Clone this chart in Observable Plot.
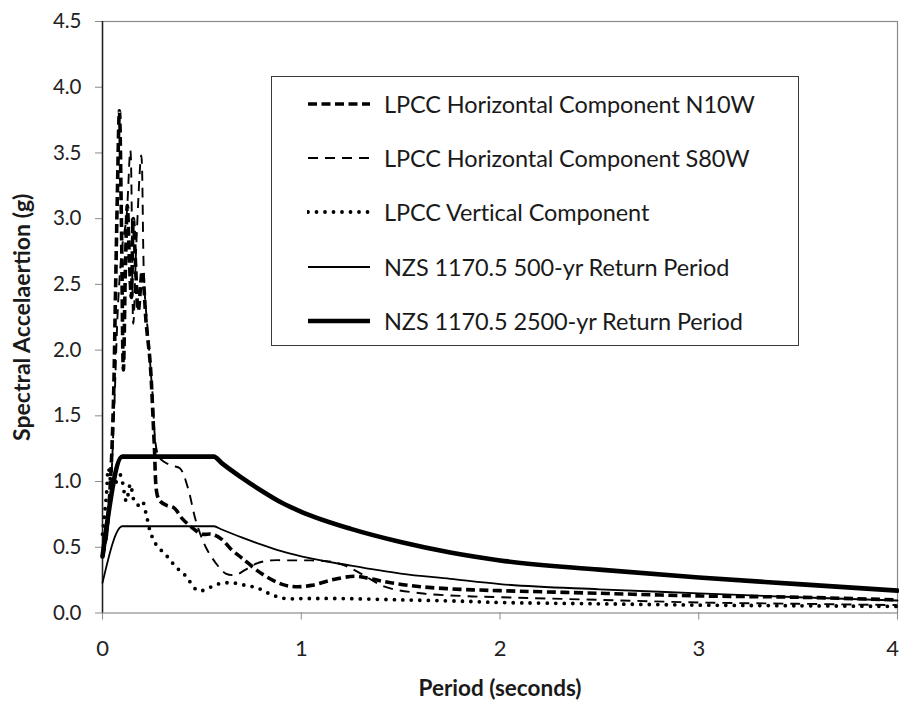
<!DOCTYPE html>
<html>
<head>
<meta charset="utf-8">
<script src="https://cdn.jsdelivr.net/npm/d3@7"></script>
<script src="https://cdn.jsdelivr.net/npm/@observablehq/plot@0.6"></script>
<style>
  html, body { margin: 0; padding: 0; background: #fff; }
  #wrap { position: relative; width: 899px; height: 702px; font-family: Lato, "Open Sans", sans-serif; }
  #legend { position: absolute; left: 271px; top: 76px; width: 528px; height: 270px; border: 1.5px solid #3a3a3a; background: #fff; box-sizing: border-box; }
  .row { position: absolute; left: 0; height: 30px; display: flex; align-items: center; }
  .row svg { margin-left: 35px; }
  .row span { margin-left: 13px; font-size: 23.5px; color: #1a1a1a; white-space: nowrap; letter-spacing: -0.1px; }
</style>
</head>
<body>
<div id="wrap"></div>
<script>
// ---- data ----
const xTicks = [0, 1, 2, 3, 4];
const yTicks = [0, 0.5, 1, 1.5, 2, 2.5, 3, 3.5, 4, 4.5];

const seriesNames = [
  "LPCC Horizontal Component N10W",
  "LPCC Horizontal Component S80W",
  "LPCC Vertical Component",
  "NZS 1170.5 500-yr Return Period",
  "NZS 1170.5 2500-yr Return Period"
];

const periodN10W = [0, 0.02, 0.04, 0.055, 0.065, 0.075, 0.085, 0.095, 0.105, 0.115, 0.125, 0.135, 0.145, 0.155, 0.165, 0.18, 0.2, 0.22, 0.24, 0.26, 0.275, 0.29, 0.32, 0.36, 0.4, 0.45, 0.5, 0.55, 0.6, 0.65, 0.7, 0.8, 0.9, 0.97, 1.05, 1.15, 1.27, 1.35, 1.45, 1.6, 1.8, 2.0, 2.5, 3.0, 3.5, 4.0];
const saN10W     = [0.43, 0.6, 1.0, 1.6, 2.4, 3.2, 3.82, 3.0, 1.85, 2.6, 3.1, 2.7, 2.4, 3.0, 2.7, 2.3, 2.6, 2.2, 1.9, 1.3, 0.9, 0.85, 0.82, 0.8, 0.72, 0.65, 0.6, 0.6, 0.56, 0.48, 0.42, 0.3, 0.22, 0.2, 0.21, 0.25, 0.28, 0.26, 0.23, 0.2, 0.18, 0.17, 0.15, 0.13, 0.12, 0.1];

const periodS80W = [0, 0.02, 0.04, 0.06, 0.08, 0.1, 0.12, 0.14, 0.155, 0.17, 0.195, 0.21, 0.23, 0.25, 0.28, 0.31, 0.35, 0.39, 0.43, 0.47, 0.52, 0.57, 0.62, 0.67, 0.72, 0.78, 0.85, 0.95, 1.05, 1.15, 1.22, 1.3, 1.42, 1.6, 1.8, 2.0, 2.5, 3.0, 3.5, 4.0];
const saS80W     = [0.43, 0.55, 0.9, 1.6, 2.4, 2.8, 3.0, 3.52, 2.2, 2.8, 3.48, 2.5, 2.1, 1.7, 1.2, 1.15, 1.12, 1.1, 0.95, 0.7, 0.5, 0.38, 0.3, 0.29, 0.33, 0.38, 0.4, 0.4, 0.4, 0.39, 0.36, 0.3, 0.2, 0.15, 0.13, 0.12, 0.1, 0.08, 0.07, 0.06];

const periodVert = [0, 0.02, 0.03, 0.05, 0.07, 0.09, 0.1, 0.12, 0.14, 0.16, 0.18, 0.2, 0.22, 0.24, 0.27, 0.32, 0.37, 0.42, 0.47, 0.5, 0.58, 0.65, 0.72, 0.78, 0.85, 0.92, 1.0, 1.2, 1.5, 1.8, 2.0, 2.5, 3.0, 3.5, 4.0];
const saVert     = [0.6, 0.9, 1.1, 0.95, 1.0, 1.05, 1.0, 0.85, 0.98, 0.85, 0.82, 0.85, 0.75, 0.62, 0.52, 0.44, 0.35, 0.28, 0.18, 0.17, 0.22, 0.23, 0.21, 0.19, 0.14, 0.11, 0.11, 0.11, 0.1, 0.09, 0.08, 0.07, 0.06, 0.055, 0.05];

const periodNZS = [0, 0.1, 0.56, 0.6, 0.7, 0.8, 0.9, 1.0, 1.25, 1.5, 1.75, 2.0, 2.5, 3.0, 3.5, 4.0];
const sa500     = [0.23, 0.66, 0.66, 0.635, 0.575, 0.52, 0.47, 0.43, 0.36, 0.3, 0.26, 0.22, 0.18, 0.15, 0.12, 0.095];
const sa2500    = [0.43, 1.19, 1.19, 1.14, 1.03, 0.93, 0.84, 0.77, 0.64, 0.54, 0.46, 0.4, 0.33, 0.27, 0.22, 0.17];

// ---- build tables ----
const zip = (xs, ys) => xs.map((x, i) => ({x, y: ys[i]}));
const dN10W = zip(periodN10W, saN10W);
const dS80W = zip(periodS80W, saS80W);
const dVert = zip(periodVert, saVert);
const d500  = zip(periodNZS, sa500);
const d2500 = zip(periodNZS, sa2500);

// ---- styles ----
const styles = [
  {stroke: "#000", strokeWidth: 3.6, strokeDasharray: "9,4.5", strokeLinecap: "butt"},
  {stroke: "#000", strokeWidth: 1.9, strokeDasharray: "10,7", strokeLinecap: "butt"},
  {stroke: "#000", strokeWidth: 3.8, strokeDasharray: "0,8.5", strokeLinecap: "round"},
  {stroke: "#000", strokeWidth: 1.8},
  {stroke: "#000", strokeWidth: 4.6}
];

const font = "Lato, 'Open Sans', sans-serif";
const lastX = xTicks[xTicks.length - 1];

const chart = Plot.plot({
  width: 899,
  height: 702,
  marginLeft: 102,
  marginRight: 2,
  marginTop: 21,
  marginBottom: 89.5,
  style: {fontFamily: font, background: "#fff", overflow: "hidden"},
  x: {domain: [0, 4]},
  y: {domain: [0, 4.5]},
  marks: [
    Plot.frame({stroke: "#8a8a8a", strokeWidth: 1.2}),
    // ticks for all, labels for all but the last (which would be clipped at the edge)
    Plot.axisX({ticks: xTicks, tickFormat: d => (d === lastX ? "" : String(d)), tickSize: 7, tickPadding: 20, fontSize: 22, stroke: "#8a8a8a", fill: "#222", label: null}),
    // last label nudged inward so it stays fully visible
    Plot.axisX({ticks: [lastX], tickFormat: d => String(d), tickSize: 0, tickPadding: 27, dx: -5, fontSize: 22, fill: "#222", label: null}),
    Plot.axisY({ticks: yTicks, tickFormat: d => d.toFixed(1), tickSize: 7, tickPadding: 14, fontSize: 20.5, stroke: "#8a8a8a", fill: "#222", label: null}),
    Plot.ruleX([0], {stroke: "#222", strokeWidth: 1.5}),
    Plot.line(d2500, {x: "x", y: "y", ...styles[4], curve: "monotone-x"}),
    Plot.line(d500,  {x: "x", y: "y", ...styles[3], curve: "monotone-x"}),
    Plot.line(dVert, {x: "x", y: "y", ...styles[2], curve: "catmull-rom"}),
    Plot.line(dS80W, {x: "x", y: "y", ...styles[1], curve: "catmull-rom"}),
    Plot.line(dN10W, {x: "x", y: "y", ...styles[0], curve: "catmull-rom"}),
    Plot.text(["Period (seconds)"], {text: d => d, frameAnchor: "bottom", dy: 76, lineAnchor: "middle", fontWeight: "bold", fontSize: 22.5, fill: "#1a1a1a"}),
    Plot.text(["Spectral Accelaertion (g)"], {text: d => d, frameAnchor: "left", dx: -80, rotate: -90, lineAnchor: "middle", textAnchor: "middle", fontWeight: "bold", fontSize: 23, fill: "#1a1a1a"})
  ]
});

const wrap = document.getElementById("wrap");
wrap.appendChild(chart);

// ---- legend (inside the plot area, drawn as HTML) ----
const legend = document.createElement("div");
legend.id = "legend";
const rowTops = [12, 66, 120, 175, 229];
seriesNames.forEach((name, i) => {
  const row = document.createElement("div");
  row.className = "row";
  row.style.top = rowTops[i] + "px";
  const s = styles[i];
  const svgNS = "http://www.w3.org/2000/svg";
  const svg = document.createElementNS(svgNS, "svg");
  svg.setAttribute("width", 64);
  svg.setAttribute("height", 30);
  const ln = document.createElementNS(svgNS, "line");
  ln.setAttribute("x1", 1); ln.setAttribute("x2", 63);
  ln.setAttribute("y1", 15); ln.setAttribute("y2", 15);
  ln.setAttribute("stroke", s.stroke);
  ln.setAttribute("stroke-width", s.strokeWidth);
  if (s.strokeDasharray) ln.setAttribute("stroke-dasharray", s.strokeDasharray);
  if (s.strokeLinecap) ln.setAttribute("stroke-linecap", s.strokeLinecap);
  svg.appendChild(ln);
  const label = document.createElement("span");
  label.textContent = name;
  row.appendChild(svg);
  row.appendChild(label);
  legend.appendChild(row);
});
wrap.appendChild(legend);
</script>
</body>
</html>
